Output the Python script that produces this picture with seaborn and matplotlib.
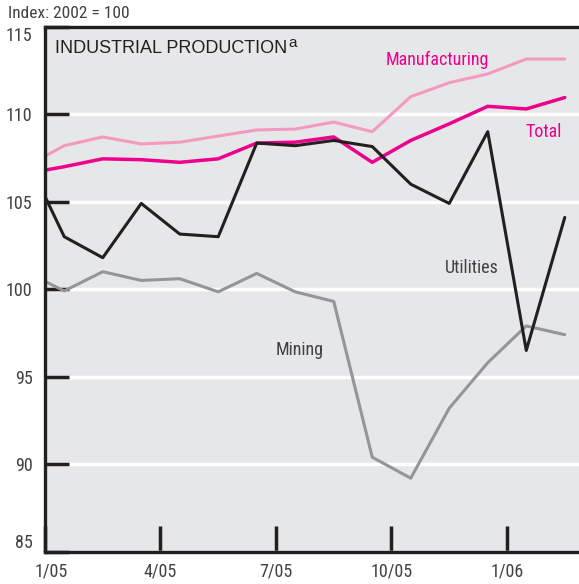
import numpy as np
import pandas as pd
import matplotlib
matplotlib.use("Agg")
import matplotlib.pyplot as plt
import matplotlib.transforms as mtransforms
import seaborn as sns

# monthly index values, Dec 2004 .. Feb 2006 (2002 = 100)
months = ["12/04", "1/05", "2/05", "3/05", "4/05", "5/05", "6/05", "7/05",
          "8/05", "9/05", "10/05", "11/05", "12/05", "1/06", "2/06"]
manufacturing = [107.0, 108.2, 108.7, 108.3, 108.4, 108.75, 109.1, 109.15,
                 109.55, 109.0, 111.0, 111.8, 112.3, 113.15, 113.15]
total = [106.6, 107.0, 107.45, 107.4, 107.25, 107.45, 108.35, 108.4,
         108.7, 107.25, 108.5, 109.45, 110.45, 110.3, 110.95]
utilities = [107.6, 103.0, 101.8, 104.9, 103.15, 103.0, 108.35, 108.2,
             108.5, 108.15, 106.0, 104.9, 109.0, 96.5, 104.1]
mining = [101.0, 99.9, 101.0, 100.5, 100.6, 99.85, 100.9, 99.85,
          99.3, 90.4, 89.2, 93.2, 95.8, 97.9, 97.4]
tick_labels = ["1/05", "4/05", "7/05", "10/05", "1/06"]
y_ticks = [85, 90, 95, 100, 105, 110, 115]

series = {"Mining": mining, "Manufacturing": manufacturing,
          "Total": total, "Utilities": utilities}
colors = {"Mining": "#939598", "Manufacturing": "#f49ac1",
          "Total": "#ec008c", "Utilities": "#231f20"}
widths = {"Mining": 2.2, "Manufacturing": 2.2, "Total": 2.5, "Utilities": 2.2}

# points sit at mid-month; Jan 2005 starts at x = 0
x = np.arange(len(months)) - 0.5
df = pd.concat([pd.DataFrame({"x": x, "value": v, "series": k}) for k, v in series.items()])

sns.set_style("white", {"axes.facecolor": "#e6e7e8"})
plt.rcParams["font.family"] = ["Roboto Condensed", "DejaVu Sans"]

fig = plt.figure(figsize=(5.79, 5.84), dpi=100)
ax = fig.add_axes([0.0777, 0.0553, 0.9223, 0.899])

for name in series:
    sns.lineplot(data=df[df["series"] == name], x="x", y="value", color=colors[name],
                 linewidth=widths[name], ax=ax, legend=False)

ax.set_xlim(0, 13.87)
ax.set_ylim(85, 115)
ax.set_xticks([0, 3, 6, 9, 12])
ax.set_xticklabels(tick_labels)
ax.set_yticks(y_ticks)
ax.set_yticklabels([str(t) for t in y_ticks])
ax.set_xlabel("")
ax.set_ylabel("")

ax.yaxis.grid(True, color="white", linewidth=2.5)
ax.set_axisbelow(True)

dark = "#231f20"
ax.tick_params(axis="y", left=True, direction="in", length=17, width=2.5, color=dark,
               pad=9, labelsize=13, labelcolor="#414042")
ax.tick_params(axis="x", bottom=True, direction="in", length=19, width=2.5, color=dark,
               pad=8, labelsize=13, labelcolor="#414042")
ylabs = ax.get_yticklabels()
ylabs[0].set_va("bottom")
ylabs[-1].set_va("top")
xlabs = ax.get_xticklabels()
xlabs[0].set_transform(xlabs[0].get_transform()
                       + mtransforms.ScaledTranslation(6 / 100, 0, fig.dpi_scale_trans))

for side in ["left", "bottom", "top"]:
    ax.spines[side].set_visible(True)
    ax.spines[side].set_color(dark)
    ax.spines[side].set_linewidth(2.4)
ax.spines["right"].set_visible(False)

# labels
title = ax.text(0.018, 0.975, "INDUSTRIAL PRODUCTION", transform=ax.transAxes,
                fontsize=13, color=dark, family="Liberation Sans", va="top", ha="left")
ax.annotate("a", xy=(1, 1), xycoords=title, xytext=(1, 3), textcoords="offset points",
            fontsize=11, color=dark, family="Liberation Sans", va="top", ha="left")
ax.text(10.2, 113.1, "Manufacturing", color="#ec008c", fontsize=13, ha="center", va="center")
ax.text(13.43, 109.0, "Total", color="#ec008c", fontsize=13, ha="right", va="center")
ax.text(11.08, 101.2, "Utilities", color="#414042", fontsize=13, ha="center", va="center")
ax.text(6.62, 96.5, "Mining", color="#414042", fontsize=13, ha="center", va="center")

fig.text(8 / 579, 1 - 13 / 584, "Index: 2002 = 100", fontsize=12.5, color="#414042",
         ha="left", va="center")

fig.savefig("out.png", dpi=100, facecolor="white")
